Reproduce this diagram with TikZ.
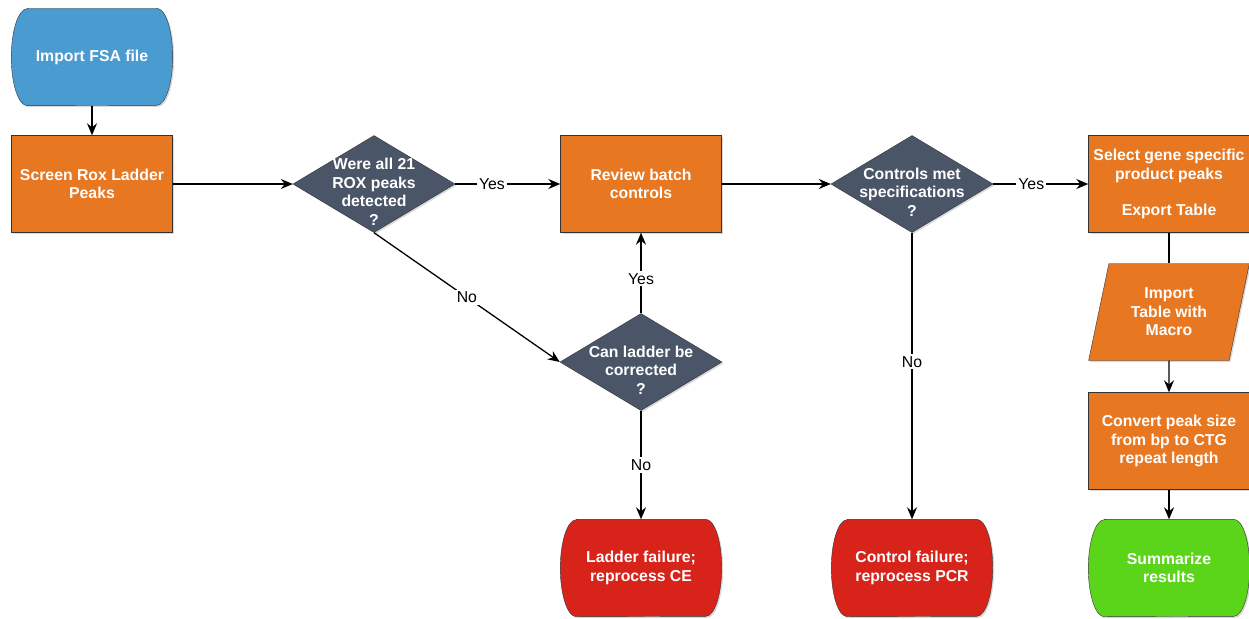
\documentclass[tikz,border=0pt]{standalone}
\usepackage{fontspec}
\setmainfont{Liberation Sans}
\usetikzlibrary{shapes,arrows.meta,positioning,calc,shadows}

\definecolor{startblue}{HTML}{4A9BD0}
\definecolor{steporange}{HTML}{E87722}
\definecolor{askslate}{HTML}{4A5568}
\definecolor{failred}{HTML}{D8231A}
\definecolor{donegreen}{HTML}{5BD51A}

\pgfdeclarelayer{background}
\pgfsetlayers{background,main}

% outline of a start/end box, drawn behind its text
\newcommand{\termoutline}[2]{%
  \begin{pgfonlayer}{background}
    \draw [termline, fill=#2] ($(#1.north west)+(16pt,0)$) -- ($(#1.north east)+(-16pt,0)$)
      arc[x radius=16pt, y radius=48.5pt, start angle=90, end angle=-90]
      -- ($(#1.south west)+(16pt,0)$)
      arc[x radius=16pt, y radius=48.5pt, start angle=270, end angle=90] -- cycle;
  \end{pgfonlayer}}

\begin{document}
\begin{tikzpicture}[x=1pt, y=-1pt,
    shade/.style={drop shadow={shadow xshift=1.5pt, shadow yshift=-1.5pt, opacity=0.3}},
    boxtext/.style={text=white, align=center, font=\bfseries\fontsize{15.8}{18.5}\selectfont},
    stepbox/.style={draw=black!80, fill=steporange, minimum width=161pt, minimum height=97pt, inner sep=0pt, shade, boxtext},
    endbox/.style={minimum width=161pt, minimum height=97pt, inner sep=0pt, boxtext},
    termline/.style={draw=black!80, shade},
    decision/.style={diamond, draw=black!80, fill=askslate, minimum width=162pt, minimum height=97pt, inner sep=0pt, shade},
    asktext/.style={boxtext, yshift=-8pt},
    iobox/.style={trapezium, trapezium left angle=75, trapezium right angle=105, trapezium stretches=true, draw=black!80, fill=steporange, minimum width=161pt, minimum height=97pt, inner sep=0pt, shade, boxtext},
    arr/.style={-{Stealth[length=12pt, width=10pt, inset=4pt]}, line width=1.3pt},
    lbl/.style={fill=white, inner sep=2pt, font=\fontsize{15.8}{17}\selectfont}]

    \useasboundingbox (0,0) rectangle (1249,618);

    % main row
    \node [endbox] (fsa) at (92,57) {Import FSA file};
    \termoutline{fsa}{startblue}
    \node [stepbox] (screen) at (92,184) {Screen Rox Ladder\\Peaks};
    \node [decision] (were) at (374,184) {};
    \node [asktext] (weretxt) at (were) {Were all 21\\ROX peaks\\detected\\?};
    \node [stepbox] (review) at (641,184) {Review batch\\controls};
    \node [decision] (meets) at (912,184) {};
    \node [asktext] (meetstxt) at (meets) {Controls met\\specifications\\?};
    \node [stepbox] (select) at (1169,184) {Select gene specific\\product peaks\\[18pt]Export Table};

    % ladder check
    \node [decision] (canfix) at (641,362) {};
    \node [asktext] (canfixtxt) at (canfix) {Can ladder be\\corrected\\?};

    % right column
    \node [iobox] (import) at (1169,312) {Import\\Table with\\Macro};
    \node [stepbox] (convert) at (1169,441) {Convert peak size\\from bp to CTG\\repeat length};

    % end points
    \node [endbox] (ladderfail) at (641,568) {Ladder failure;\\reprocess CE};
    \termoutline{ladderfail}{failred}
    \node [endbox] (ctrlfail) at (912,568) {Control failure;\\reprocess PCR};
    \termoutline{ctrlfail}{failred}
    \node [endbox] (summ) at (1169,568) {Summarize\\results};
    \termoutline{summ}{donegreen}

    \draw [arr] (fsa) -- (screen);
    \draw [arr] (screen) -- (were);
    \draw [arr] (were) -- node[lbl, pos=0.35] {Yes} (review);
    \draw [arr] (were.south) -- node[lbl] {No} (canfix.west);
    \draw [arr] (canfix.north) -- node[lbl, pos=0.43] {Yes} (review.south);
    \draw [arr] (canfix.south) -- node[lbl] {No} (ladderfail.north);
    \draw [arr] (review) -- (meets);
    \draw [arr] (meets) -- node[lbl, pos=0.4] {Yes} (select);
    \draw [arr] (meets.south) -- node[lbl, pos=0.45] {No} (ctrlfail.north);
    \draw [line width=1.3pt] (select) -- (import);
    \draw [arr] (import) -- (convert);
    \draw [arr] (convert) -- (summ);
\end{tikzpicture}
\end{document}
